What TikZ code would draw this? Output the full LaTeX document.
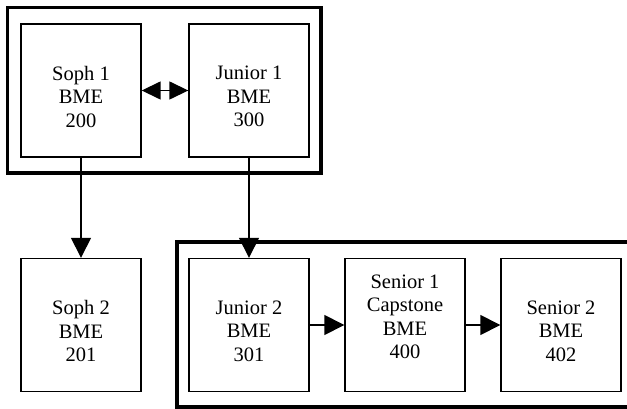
\documentclass[tikz,border=0pt]{standalone}
\usepackage{fontspec}
\setmainfont{Liberation Serif}
\usetikzlibrary{arrows.meta}

\tikzset{
  course/.style={draw, line width=1.4pt, minimum width=120pt, minimum height=133pt, inner sep=0pt},
  ctext/.style={align=center, font=\fontsize{20.5}{23.5}\selectfont},
  frame/.style={line width=3.8pt},
  arr/.style={line width=1.5pt, -{Triangle[length=20pt,width=20pt]}},
  dblarr/.style={line width=1.5pt, {Triangle[length=19pt,width=18pt]}-{Triangle[length=19pt,width=18pt]}}
}

\begin{document}
\begin{tikzpicture}[x=1pt, y=-1pt]
  \useasboundingbox (0,0) rectangle (627,409);

  % year boxes
  \draw[frame] (7.5,7.5) rectangle (321,173);
  \begin{scope}
    \clip (0,0) rectangle (627,409);
    \draw[frame] (177,242) rectangle (650,407);
  \end{scope}

  % courses
  \node[course, label={[ctext, yshift=-6pt]center:{Soph 1\\BME\\200}}] (soph1) at (81,90.5) {};
  \node[course, label={[ctext, yshift=-6pt]center:{Junior 1\\BME\\300}}] (junior1) at (249,90.5) {};
  \node[course, label={[ctext, yshift=-6pt]center:{Soph 2\\BME\\201}}] (soph2) at (81,325) {};
  \node[course, label={[ctext, yshift=-6pt]center:{Junior 2\\BME\\301}}] (junior2) at (249,325) {};
  \node[course, label={[ctext, yshift=8pt]center:{Senior 1\\Capstone\\BME\\400}}] (senior1) at (405,325) {};
  \node[course, label={[ctext, yshift=-6pt]center:{Senior 2\\BME\\402}}] (senior2) at (561,325) {};

  % prerequisites
  \draw[dblarr] (soph1) -- (junior1);
  \draw[arr] (soph1) -- (soph2);
  \draw[arr] (junior1) -- (junior2);
  \draw[arr] (junior2) -- (senior1);
  \draw[arr] (senior1) -- (senior2);
\end{tikzpicture}
\end{document}
